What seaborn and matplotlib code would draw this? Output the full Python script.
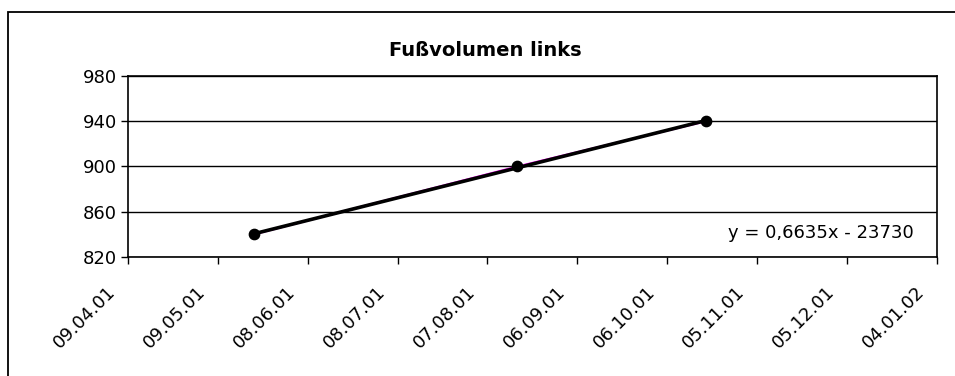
import pandas as pd
import numpy as np
import matplotlib
matplotlib.use('Agg')
import matplotlib.pyplot as plt
import matplotlib.dates as mdates
import matplotlib.transforms as mtransforms
import seaborn as sns

# data
dates = ['2001-05-21', '2001-08-17', '2001-10-19']
volume = [840, 900, 940]
tick_dates = ['2001-04-09', '2001-05-09', '2001-06-08', '2001-07-08', '2001-08-07',
              '2001-09-06', '2001-10-06', '2001-11-05', '2001-12-05', '2002-01-04']
y_ticks = [820, 860, 900, 940, 980]
title = 'Fußvolumen links'
equation = 'y = 0,6635x - 23730'

df = pd.DataFrame({'datum': pd.to_datetime(dates), 'volumen': volume})
df['x'] = mdates.date2num(df['datum'])

sns.set_style('white')
plt.rcParams['font.family'] = ['DejaVu Sans']
plt.rcParams['text.color'] = 'black'
plt.rcParams['xtick.color'] = 'black'
plt.rcParams['ytick.color'] = 'black'

fig = plt.figure(figsize=(9.55, 3.76), dpi=100)
ax = fig.add_axes([0.134, 0.3165, 0.847, 0.4815])

# data series (magenta, mostly hidden) and black linear trendline on top
sns.lineplot(data=df, x='x', y='volumen', color='#ff00ff', linewidth=1.5, ax=ax)
sns.regplot(data=df, x='x', y='volumen', ci=None, truncate=True, ax=ax,
            color='black', line_kws={'linewidth': 2.6},
            scatter_kws={'s': 55, 'color': 'black', 'alpha': 1, 'zorder': 5})

ticks = mdates.date2num(pd.to_datetime(tick_dates))
ax.set_xlim(ticks[0], ticks[-1])
ax.set_xticks(ticks)
ax.set_xticklabels([])
# rotated date labels, placed below-left of each tick like the Excel chart
shift = mtransforms.ScaledTranslation(-0.15, -0.32, fig.dpi_scale_trans)
for t, lab in zip(ticks, pd.to_datetime(tick_dates).strftime('%d.%m.%y')):
    ax.text(t, 0, lab, transform=ax.get_xaxis_transform() + shift,
            rotation=45, ha='right', va='center', rotation_mode='anchor',
            fontsize=13, color='black', clip_on=False)

ax.set_ylim(820, 980)
ax.set_yticks(y_ticks)
ax.set_yticklabels([str(v) for v in y_ticks], fontsize=13, color='black')
ax.tick_params(axis='both', direction='out', length=5, width=1, color='black',
               bottom=True, left=True, pad=3)
ax.yaxis.grid(True, color='black', linewidth=1)
ax.set_axisbelow(True)
for s in ax.spines.values():
    s.set_color('black')
    s.set_linewidth(1.2)
ax.set_xlabel('')
ax.set_ylabel('')

ax.text(0.972, 0.133, equation, transform=ax.transAxes, ha='right', va='center',
        fontsize=13, color='black')
fig.text(0.508, 0.865, title, ha='center', va='center', fontsize=14,
         fontweight='bold', color='black')

# outer chart frame (runs off the right and bottom edge)
fig.patches.append(plt.Rectangle((0.0084, -0.1), 1.2, 1.068, transform=fig.transFigure,
                                 fill=False, edgecolor='black', linewidth=1.3))

fig.savefig('out.png', dpi=100)
